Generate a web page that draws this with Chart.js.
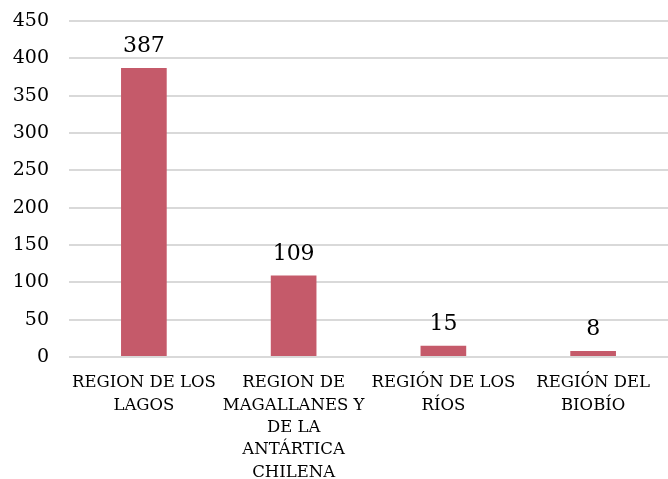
<!DOCTYPE html>
<html><head><meta charset="utf-8">
<script src="https://cdn.jsdelivr.net/npm/chart.js@4/dist/chart.umd.min.js"></script>
<style>html,body{margin:0;padding:0;background:#fff}#wrap{width:668px;height:479px}</style>
</head><body><div id="wrap"><canvas id="c" width="668" height="479"></canvas></div>
<script>
const categories = [
  ["REGION DE LOS", "LAGOS"],
  ["REGION DE", "MAGALLANES Y", "DE LA", "ANTÁRTICA", "CHILENA"],
  ["REGIÓN DE LOS", "RÍOS"],
  ["REGIÓN DEL", "BIOBÍO"]
];
const values = [387, 109, 15, 8];
const yTicks = [0, 50, 100, 150, 200, 250, 300, 350, 400, 450];

const FONT = "'DejaVu Serif', 'Liberation Serif', serif";

const valueLabels = {
  id: 'valueLabels',
  afterDatasetsDraw(chart) {
    const ctx = chart.ctx;
    const meta = chart.getDatasetMeta(0);
    ctx.save();
    ctx.font = "22px " + FONT;
    ctx.fillStyle = '#000';
    ctx.textAlign = 'center';
    ctx.textBaseline = 'alphabetic';
    meta.data.forEach((bar, i) => {
      ctx.fillText(String(values[i]), bar.x, bar.y - 16);
    });
    ctx.restore();
  }
};

new Chart(document.getElementById('c'), {
  type: 'bar',
  data: {
    labels: categories,
    datasets: [{
      data: values,
      backgroundColor: '#C55A6A',
      borderWidth: 0,
      barPercentage: 0.61,
      categoryPercentage: 0.5
    }]
  },
  options: {
    responsive: false,
    animation: false,
    layout: { padding: { top: 21, right: -6, left: 0, bottom: 0 } },
    plugins: { legend: { display: false }, tooltip: { enabled: false } },
    scales: {
      x: {
        grid: { display: false, drawTicks: false },
        border: { display: false },
        ticks: { color: '#000', font: { family: FONT, size: 16.5, lineHeight: 1.35 }, maxRotation: 0, autoSkip: false, padding: 15 },
        afterFit(s) { s.height = 122; s.paddingLeft = 0; s.paddingRight = 0; }
      },
      y: {
        min: 0, max: 450,
        afterBuildTicks(s) { s.ticks = yTicks.map(v => ({ value: v })); },
        grid: { color: '#D9D9D9', lineWidth: 2, drawTicks: false },
        border: { display: false },
        ticks: { color: '#000', font: { family: FONT, size: 19 }, padding: 20 },
        afterFit(s) { s.width = 69; s.paddingTop = 0; s.paddingBottom = 0; }
      }
    }
  },
  plugins: [valueLabels]
});
</script></body></html>
